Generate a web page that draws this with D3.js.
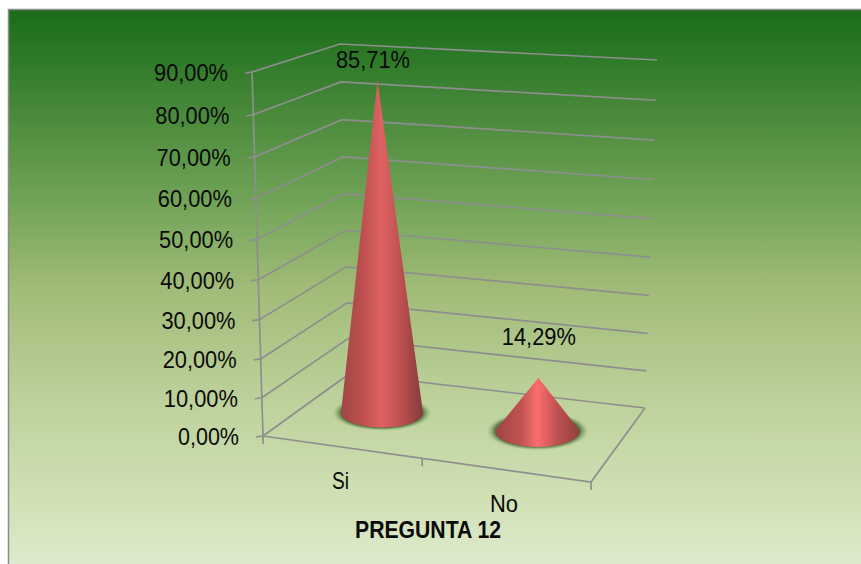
<!DOCTYPE html>
<html>
<head>
<meta charset="utf-8">
<title>PREGUNTA 12</title>
<script src="https://cdn.jsdelivr.net/npm/d3@7"></script>
<style>
html,body{margin:0;padding:0;background:#fff;}
svg{display:block;}
text{font-family:"Liberation Sans",Arial,sans-serif;fill:#0a0a0a;}
</style>
</head>
<body>
<svg id="chart" width="861" height="564"></svg>
<script>
// Chart values
const categories = ["Si", "No"];
const values = [85.71, 14.29];
const valueLabels = ["85,71%", "14,29%"];
const tickValues = [0, 10, 20, 30, 40, 50, 60, 70, 80, 90];
const tickLabels = ["0,00%", "10,00%", "20,00%", "30,00%", "40,00%", "50,00%", "60,00%", "70,00%", "80,00%", "90,00%"];
const chartTitle = "PREGUNTA 12";

// Projected frame of the 3D box: floor and top corners of each vertical edge
const frame = {
  front: { floor: [263, 436], top: [252, 72], r: 1.064 },
  back:  { floor: [349, 374], top: [340, 44], r: 1.04 },
  right: { floor: [645, 408], top: [657, 60], r: 1.046 }
};
const floorFrontRight = [591, 482];
const coneFloor = [
  { cx: 382, cy: 413, rx: 41, ry: 14.5 },
  { cx: 537.5, cy: 431, rx: 42.5, ry: 16 }
];
const coneRise = 350;      // projected height of the full value range at the cones
const coneLean = 0.066;    // horizontal convergence of verticals
const leanCentre = 454;

const gridColor = "#8e8e8e";
const unit = d3.scaleLinear().domain([0, 90]).range([0, 1]);
// Foreshortening along an edge of the box
const persp = (t, r) => t / (t + (1 - t) * r);
const onEdge = (edge, v) => {
  const k = persp(unit(v), edge.r);
  return [d3.interpolateNumber(edge.floor[0], edge.top[0])(k),
          d3.interpolateNumber(edge.floor[1], edge.top[1])(k)];
};

const svg = d3.select("#chart");
const defs = svg.append("defs");

// Panel background
const bg = defs.append("linearGradient").attr("id", "panel").attr("x1", 0).attr("y1", 0).attr("x2", 0).attr("y2", 1);
[[0, "#1a6b19"], [0.09, "#2e7a28"], [0.2, "#4c8b3d"], [0.35, "#72a458"], [0.5, "#a0bb77"], [0.7, "#bcd19a"], [0.9, "#d2e2b8"], [1, "#deeacd"]]
  .forEach(([o, c]) => bg.append("stop").attr("offset", o).attr("stop-color", c));

svg.append("rect").attr("x", 8).attr("y", 9).attr("width", 853).attr("height", 555).attr("fill", "url(#panel)");
svg.append("path").attr("d", "M8.5,564V9.5H861").attr("fill", "none").attr("stroke", "#8c8c8c").attr("stroke-width", 1.5);

// Cone shading
const coneFill = (id, stops) => {
  const g = defs.append("linearGradient").attr("id", id).attr("x1", 0).attr("x2", 1).attr("y1", 0).attr("y2", 0);
  stops.forEach(([o, c]) => g.append("stop").attr("offset", o).attr("stop-color", c));
};
coneFill("cone0", [[0, "#a14646"], [0.25, "#bc4f4f"], [0.5, "#e06262"], [0.75, "#b94e4e"], [1, "#843b3b"]]);
coneFill("cone1", [[0, "#9c4444"], [0.3, "#c25252"], [0.5, "#fb6e6e"], [0.72, "#c25252"], [1, "#8e3f3f"]]);

// Soft contact shadow under each cone
const halo = defs.append("radialGradient").attr("id", "halo");
[[0, "#4a6a3a", 0.9], [0.82, "#4a6a3a", 0.9], [0.9, "#7a9a62", 0.6], [1, "#a8c488", 0]]
  .forEach(([o, c, a]) => halo.append("stop").attr("offset", o).attr("stop-color", c).attr("stop-opacity", a));

// Walls and floor
const grid = svg.append("g").attr("fill", "none").attr("stroke", gridColor).attr("stroke-width", 1.7);
tickValues.forEach(v => {
  grid.append("path").attr("d", d3.line()([onEdge(frame.front, v), onEdge(frame.back, v), onEdge(frame.right, v)]));
  const p = onEdge(frame.front, v);
  grid.append("path").attr("d", d3.line()([[p[0] - 7, p[1] + 1], p]));
});
grid.append("path").attr("d", d3.line()([frame.front.floor, frame.front.top]));
grid.append("path").attr("d", d3.line()([frame.front.floor, floorFrontRight, frame.right.floor]));
// Category separators below the floor edge
d3.range(categories.length + 1).forEach(i => {
  const k = persp(i / categories.length, 1.06);
  const x = d3.interpolateNumber(frame.front.floor[0], floorFrontRight[0])(k);
  const y = d3.interpolateNumber(frame.front.floor[1], floorFrontRight[1])(k);
  grid.append("path").attr("d", d3.line()([[x, y], [x, y + 8]]));
});

// Value axis labels follow the slanted edge
svg.append("g").selectAll("text").data(tickValues).join("text")
  .attr("x", v => onEdge(frame.front, v)[0] - 24)
  .attr("y", v => onEdge(frame.front, v)[1] + 9)
  .attr("text-anchor", "end")
  .attr("font-size", 24)
  .attr("lengthAdjust", "spacingAndGlyphs")
  .attr("textLength", (v, i) => i === 0 ? 61 : 74)
  .text((v, i) => tickLabels[i]);

// Cones
const cones = svg.append("g").selectAll("g").data(values).join("g");
cones.append("ellipse")
  .attr("cx", (d, i) => coneFloor[i].cx)
  .attr("cy", (d, i) => coneFloor[i].cy)
  .attr("rx", (d, i) => coneFloor[i].rx + 9)
  .attr("ry", (d, i) => coneFloor[i].ry + 3.5)
  .attr("fill", "url(#halo)");
cones.append("path")
  .attr("fill", (d, i) => `url(#cone${i})`)
  .attr("d", (d, i) => {
    const b = coneFloor[i];
    const k = persp(unit(d), 1.05);
    const ax = b.cx + (b.cx - leanCentre) * coneLean * k;
    const ay = b.cy - coneRise * k;
    return `M${ax},${ay}L${b.cx + b.rx},${b.cy}A${b.rx},${b.ry} 0 0 1 ${b.cx - b.rx},${b.cy}Z`;
  });

// Value labels above each apex
const labelOffset = [[-4.5, -12], [0.5, -33]];
svg.append("g").selectAll("text").data(values).join("text")
  .attr("x", (d, i) => {
    const b = coneFloor[i];
    return b.cx + (b.cx - leanCentre) * coneLean * persp(unit(d), 1.05) + labelOffset[i][0];
  })
  .attr("y", (d, i) => coneFloor[i].cy - coneRise * persp(unit(d), 1.05) + labelOffset[i][1])
  .attr("text-anchor", "middle")
  .attr("font-size", 24)
  .attr("textLength", 74)
  .attr("lengthAdjust", "spacingAndGlyphs")
  .text((d, i) => valueLabels[i]);

// Category labels
const catPos = [[340.5, 489], [504, 512]];
const catWidth = [17, 28];
svg.append("g").selectAll("text").data(categories).join("text")
  .attr("x", (d, i) => catPos[i][0])
  .attr("y", (d, i) => catPos[i][1])
  .attr("text-anchor", "middle")
  .attr("font-size", 24)
  .attr("textLength", (d, i) => catWidth[i])
  .attr("lengthAdjust", "spacingAndGlyphs")
  .text(d => d);

// Axis title
svg.append("text")
  .attr("x", 428).attr("y", 538)
  .attr("text-anchor", "middle")
  .attr("font-size", 24)
  .attr("font-weight", "bold")
  .attr("textLength", 146)
  .attr("lengthAdjust", "spacingAndGlyphs")
  .text(chartTitle);
</script>
</body>
</html>
